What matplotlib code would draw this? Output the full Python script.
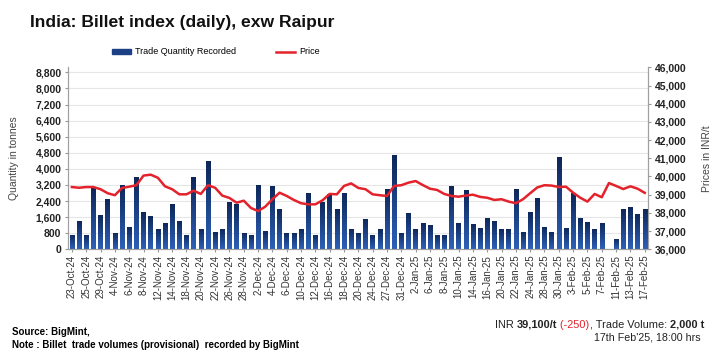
import matplotlib
matplotlib.use("Agg")
from matplotlib import pyplot as plt
from matplotlib.colors import LinearSegmentedColormap
from matplotlib.patches import Patch
from matplotlib.lines import Line2D
from matplotlib.ticker import FuncFormatter
import numpy as np

plt.rcParams["font.family"] = ["Liberation Sans", "DejaVu Sans"]

# Tick labels shown on every other trading day
date_labels = [
    "23-Oct-24", "25-Oct-24", "29-Oct-24", "4-Nov-24", "6-Nov-24", "8-Nov-24",
    "12-Nov-24", "14-Nov-24", "18-Nov-24", "20-Nov-24", "22-Nov-24", "26-Nov-24",
    "28-Nov-24", "2-Dec-24", "4-Dec-24", "6-Dec-24", "10-Dec-24", "12-Dec-24",
    "16-Dec-24", "18-Dec-24", "20-Dec-24", "24-Dec-24", "27-Dec-24", "31-Dec-24",
    "2-Jan-25", "6-Jan-25", "8-Jan-25", "10-Jan-25", "14-Jan-25", "16-Jan-25",
    "20-Jan-25", "22-Jan-25", "24-Jan-25", "28-Jan-25", "30-Jan-25", "3-Feb-25",
    "5-Feb-25", "7-Feb-25", "11-Feb-25", "13-Feb-25", "17-Feb-25",
]

# Trade quantity recorded (tonnes), one per trading day
quantity = [
    700, 1400, 700, 3050, 1700, 2500, 800, 3200, 1100, 3600,
    1850, 1650, 1000, 1300, 2250, 1400, 700, 3600, 1000, 4400,
    850, 1000, 2350, 2250, 800, 700, 3200, 900, 3150, 2000,
    800, 800, 1000, 2800, 700, 2350, 2750, 2000, 2800, 1000,
    800, 1500, 700, 1000, 3000, 4700, 800, 1800, 1000, 1300,
    1200, 700, 700, 3150, 1300, 2950, 1250, 1050, 1550, 1400,
    1000, 1000, 3000, 850, 1850, 2550, 1100, 850, 4600, 1050,
    2800, 1550, 1350, 1000, 1300, 0, 500, 2000, 2100, 1750,
    2000,
]

# Billet price (INR/t)
price = [
    39420, 39380, 39420, 39420, 39300, 39080, 38970, 39370, 39440, 39520,
    40050, 40100, 39930, 39460, 39300, 39020, 39020, 39220, 39040, 39520,
    39380, 38950, 38820, 38560, 38670, 38270, 38100, 38340, 38750, 39110,
    38930, 38710, 38530, 38470, 38470, 38690, 39040, 39020, 39480, 39620,
    39370, 39300, 39020, 38970, 38930, 39480, 39520, 39660, 39750, 39530,
    39330, 39260, 39040, 38930, 38890, 38950, 39000, 38880, 38830, 38710,
    38750, 38620, 38530, 38750, 39080, 39400, 39520, 39500, 39420, 39440,
    39110, 38830, 38620, 39040, 38860, 39640, 39480, 39310, 39460, 39330,
    39100,
]

BLUE = "#1d3f85"
RED = "#e3222b"
fig = plt.figure(figsize=(7.14, 3.58), dpi=100)
ax = fig.add_axes([0.0957, 0.3037, 0.8123, 0.5083])
ax2 = ax.twinx()

x = np.arange(len(quantity))
bars = ax.bar(x, quantity, width=0.62, color=BLUE, zorder=2)

# vertical gradient inside each bar: dark navy on top, brighter blue at bottom
grad_cmap = LinearSegmentedColormap.from_list("bar", ["#2d60b8", "#0d2658"])
grad = np.linspace(0, 1, 64).reshape(-1, 1)
for b in bars:
    h = b.get_height()
    if h <= 0:
        continue
    x0 = b.get_x()
    im = ax.imshow(grad, extent=[x0, x0 + b.get_width(), 0, h], origin="lower",
                   aspect="auto", cmap=grad_cmap, zorder=3)
    im.set_clip_path(b)

ax2.plot(x, price, color=RED, lw=1.8, zorder=5)

ax.set_xlim(-0.5, len(quantity) - 0.5)
ax.set_ylim(0, 9050)
ax.set_yticks(np.arange(0, 8801, 800))
ax2.set_ylim(36000, 46000)
ax2.set_yticks(np.arange(36000, 46001, 1000))
fmt = FuncFormatter(lambda v, p: f"{int(v):,}")
ax.yaxis.set_major_formatter(fmt)
ax2.yaxis.set_major_formatter(fmt)

ax.set_xticks(x[::2])
ax.set_xticklabels(date_labels, rotation=90, fontsize=7, color="#333333")
ax.tick_params(axis="x", length=2, pad=2, color="#999999")
ax.tick_params(axis="y", length=2, pad=3, labelsize=7.5, color="#999999")
ax2.tick_params(axis="y", length=2, pad=3, labelsize=7.5, color="#999999")
for lab in ax.get_yticklabels() + ax2.get_yticklabels():
    lab.set_fontweight("bold")
    lab.set_color("#222222")

ax.grid(axis="y", color="#e6e6e6", lw=0.8, zorder=0)
ax.set_axisbelow(True)
for a in (ax, ax2):
    a.spines["top"].set_visible(False)
    for s in ("left", "right", "bottom"):
        a.spines[s].set_color("#a0a0a0")
        a.spines[s].set_linewidth(0.8)
ax2.patch.set_visible(False)

ax.set_ylabel("Quantity in tonnes", fontsize=7.5, color="#444444", labelpad=12)
ax2.set_ylabel("Prices in INR/t", fontsize=7.5, color="#444444", labelpad=11)

fig.text(0.042, 0.938, "India: Billet index (daily), exw Raipur",
         fontsize=12.6, fontweight="bold", va="center", color="#111111")

handles = [Patch(color=BLUE), Line2D([], [], color=RED, lw=1.8)]
fig.legend(handles, ["Trade Quantity Recorded", "Price"], ncol=2,
           loc="center left", bbox_to_anchor=(0.145, 0.855), frameon=False,
           fontsize=6.5, handlelength=2.1, handleheight=0.5,
           columnspacing=4.4, handletextpad=0.5)

fig.text(0.017, 0.064, "Source: BigMint,", fontsize=7, fontweight="bold")
fig.text(0.017, 0.027, "Note : Billet  trade volumes (provisional)  recorded by BigMint",
         fontsize=7, fontweight="bold")

# right-aligned footer with mixed weight / colour
pieces = [("INR ", "normal", "#222222"), ("39,100/t", "bold", "#222222"),
          (" (-250)", "normal", RED), (", Trade Volume: ", "normal", "#222222"),
          ("2,000 t", "bold", "#222222")]
fig.canvas.draw()
renderer = fig.canvas.get_renderer()
texts = []
xpos = 0.0
for s, w, c in pieces:
    t = fig.text(xpos, 0.085, s, fontsize=7.9, fontweight=w, color=c, va="baseline")
    ext = t.get_window_extent(renderer)
    texts.append(t)
    xpos += ext.width / fig.bbox.width
shift = 0.986 - xpos
for t in texts:
    t.set_x(t.get_position()[0] + shift)
fig.text(0.981, 0.049, "17th Feb'25, 18:00 hrs", fontsize=7.7, ha="right",
         va="baseline", color="#222222")

fig.savefig("out.png", dpi=100)
